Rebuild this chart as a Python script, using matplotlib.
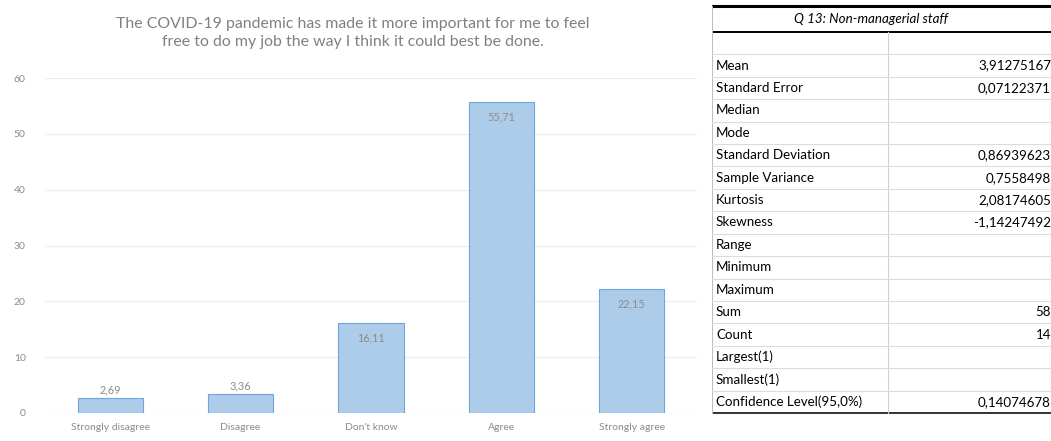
import matplotlib
matplotlib.use("Agg")
import matplotlib.pyplot as plt
from matplotlib.lines import Line2D

plt.rcParams['font.family'] = ['Lato', 'DejaVu Sans']

# bar chart data
categories = ["Strongly disagree", "Disagree", "Don't know", "Agree", "Strongly agree"]
percentages = [2.69, 3.36, 16.11, 55.71, 22.15]
y_ticks = [0, 10, 20, 30, 40, 50, 60]
title = ("The COVID-19 pandemic has made it more important for me to feel\n"
         "free to do my job the way I think it could best be done.")

# descriptive statistics table
table_title = "Q 13: Non-managerial staff"
stat_names = ["", "Mean", "Standard Error", "Median", "Mode", "Standard Deviation",
              "Sample Variance", "Kurtosis", "Skewness", "Range", "Minimum", "Maximum",
              "Sum", "Count", "Largest(1)", "Smallest(1)", "Confidence Level(95,0%)"]
stat_values = ["", "3,91275167", "0,07122371", "", "", "0,86939623",
               "0,7558498", "2,08174605", "-1,14247492", "", "", "",
               "58", "14", "", "", "0,14074678"]

W, H = 1051, 441
fig = plt.figure(figsize=(W / 100, H / 100), dpi=100)

# ---- chart ----
ax = fig.add_axes([45 / W, 1 - 413 / H, (697 - 45) / W, (413 - 78) / H])
x = range(len(categories))
ax.bar(x, percentages, width=0.5, color="#acccea", edgecolor="#6ea6da", linewidth=0.8, zorder=3)
for i, v in enumerate(percentages):
    # inside end for tall bars, just over the top for short ones
    ypos = v - 2.6 if v > 10 else v + 1.5
    ax.text(i, ypos, f"{v:.2f}".replace(".", ","), ha="center", va="center",
            fontsize=7.8, color="#8c8c8c", zorder=4)
ax.set_xlim(-0.5, len(categories) - 0.5)
ax.set_ylim(0, 60)
ax.set_yticks(y_ticks)
ax.set_xticks(list(x))
ax.set_xticklabels(categories)
ax.tick_params(axis="both", length=0, labelsize=7.5, colors="#8c8c8c")
ax.tick_params(axis="y", pad=14)
ax.tick_params(axis="x", pad=7)
ax.grid(axis="y", color="#ececec", linewidth=0.9, zorder=0)
for s in ax.spines.values():
    s.set_visible(False)
fig.text(353 / W, 1 - 33 / H, title, ha="center", va="center", fontsize=11.4,
         color="#808080", linespacing=1.45)

# ---- table ----
tl, tr = 712, 1051
ta = fig.add_axes([tl / W, 0, (tr - tl) / W, 1])
ta.set_xlim(tl, tr)
ta.set_ylim(H, 0)
ta.axis("off")
top, head_bottom, bottom = 6, 32, 413
row_h = (bottom - head_bottom) / len(stat_names)
col_div = 888

ta.add_line(Line2D([tl, tr], [top, top], color="black", lw=2.2))
ta.add_line(Line2D([tl, tr], [head_bottom, head_bottom], color="black", lw=1.4))
ta.add_line(Line2D([tl, tr], [bottom, bottom], color="#333333", lw=1.4))
ta.add_line(Line2D([tl, tl], [top, bottom], color="#bfbfbf", lw=0.8))
ta.add_line(Line2D([col_div, col_div], [head_bottom, bottom], color="#d0d0d0", lw=0.8))
ta.text((tl + tr) / 2 - 10, (top + head_bottom) / 2, table_title, ha="center", va="center",
        fontsize=9.6, style="italic", color="#000000")
for i, (name, val) in enumerate(zip(stat_names, stat_values)):
    y0 = head_bottom + i * row_h
    if i > 0:
        ta.add_line(Line2D([tl, tr], [y0, y0], color="#dcdcdc", lw=0.8))
    yc = y0 + row_h / 2
    ta.text(716, yc, name, ha="left", va="center", fontsize=9.6, color="#000000")
    ta.text(1051, yc, val, ha="right", va="center", fontsize=9.6, color="#000000")

fig.savefig("out.png", dpi=100)
